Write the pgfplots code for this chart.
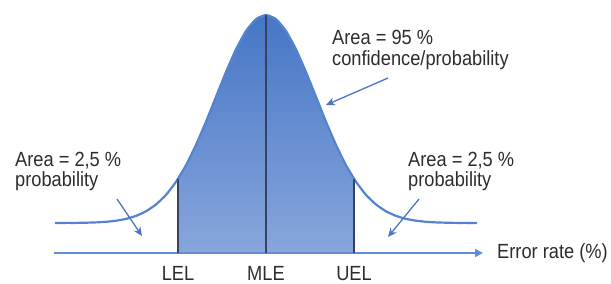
\documentclass[border=0pt]{standalone}
\usepackage{pgfplots}
\pgfplotsset{compat=1.18}
\usepackage{fontspec}
\setmainfont[FakeStretch=0.89]{Liberation Sans}
\usetikzlibrary{arrows.meta}
\definecolor{curveblue}{RGB}{84,132,206}
\definecolor{axisblue}{RGB}{96,142,212}
\definecolor{arrowblue}{RGB}{78,118,192}
\definecolor{filltop}{RGB}{70,118,198}
\definecolor{fillbot}{RGB}{136,166,220}
\definecolor{vline}{RGB}{52,66,100}
\definecolor{txt}{RGB}{45,45,45}
\pgfplotstableread{
x y
-211 30.0
-200 30.1
-190 30.1
-180 30.3
-170 30.6
-160 31.2
-150 32.3
-140 34.1
-130 37.1
-120 41.7
-110 48.5
-100 58.1
-90 71.2
-80 87.8
-70 108.1
-60 131.3
-50 156.2
-40 181.0
-30 203.7
-20 222.0
-10 233.9
0 238.0
10 233.9
20 222.0
30 203.7
40 181.0
50 156.2
60 131.3
70 108.1
80 87.8
90 71.2
100 58.1
110 48.5
120 41.7
130 37.1
140 34.1
150 32.3
160 31.2
170 30.6
180 30.3
190 30.1
200 30.1
211 30.0
}\curve
\pgfplotstableread{
x y
-88 0
-88 74.2
-80 87.8
-70 108.1
-60 131.3
-50 156.2
-40 181.0
-30 203.7
-20 222.0
-10 233.9
0 238.0
10 233.9
20 222.0
30 203.7
40 181.0
50 156.2
60 131.3
70 108.1
80 87.8
88 74.2
88 0
}\band
\begin{document}
\begin{tikzpicture}
\fontsize{20.5}{24}\selectfont
\begin{axis}[
  width=611pt, height=284pt, scale only axis,
  xmin=-266, xmax=345, ymin=-31, ymax=253,
  hide axis, clip=false,
]
\addplot[draw=none, top color=filltop, bottom color=fillbot] table[x=x,y=y] {\band} -- cycle;
\addplot[curveblue, line width=2.2pt, smooth, tension=0.3] table[x=x,y=y] {\curve};
\addplot[axisblue, line width=1.8pt, -{Triangle[length=8pt,width=8pt]}] coordinates {(-212,0) (217,0)};
\addplot[vline, line width=1.4pt] coordinates {(-88,0) (-88,74.2)};
\addplot[vline, line width=1.4pt] coordinates {(0,0) (0,238)};
\addplot[vline, line width=1.4pt] coordinates {(88,0) (88,74.2)};
\addplot[arrowblue, line width=1.3pt, -{Stealth[length=9pt,width=8pt]}] coordinates {(122,175) (60,148)};
\addplot[arrowblue, line width=1.3pt, -{Stealth[length=9pt,width=8pt]}] coordinates {(-149,54) (-124,17)};
\addplot[arrowblue, line width=1.3pt, -{Stealth[length=9pt,width=8pt]}] coordinates {(153,54) (122,16)};
\node[anchor=base west, inner sep=0pt, text=txt] at (axis cs:66,208) {Area = 95 \%};
\node[anchor=base west, inner sep=0pt, text=txt] at (axis cs:66,187) {confidence/probability};
\node[anchor=base west, inner sep=0pt, text=txt] at (axis cs:-251,86) {Area = 2,5 \%};
\node[anchor=base west, inner sep=0pt, text=txt] at (axis cs:-251,66) {probability};
\node[anchor=base west, inner sep=0pt, text=txt] at (axis cs:142,86) {Area = 2,5 \%};
\node[anchor=base west, inner sep=0pt, text=txt] at (axis cs:142,66) {probability};
\node[anchor=west, inner sep=0pt, text=txt] at (axis cs:231,0) {Error rate (\%)};
\node[anchor=base, inner sep=0pt, text=txt] at (axis cs:-88,-28) {LEL};
\node[anchor=base, inner sep=0pt, text=txt] at (axis cs:0,-28) {MLE};
\node[anchor=base, inner sep=0pt, text=txt] at (axis cs:88,-28) {UEL};
\end{axis}
\pgfresetboundingbox
\path[use as bounding box] (current axis.south west) rectangle (current axis.north east);
\end{tikzpicture}
\end{document}
